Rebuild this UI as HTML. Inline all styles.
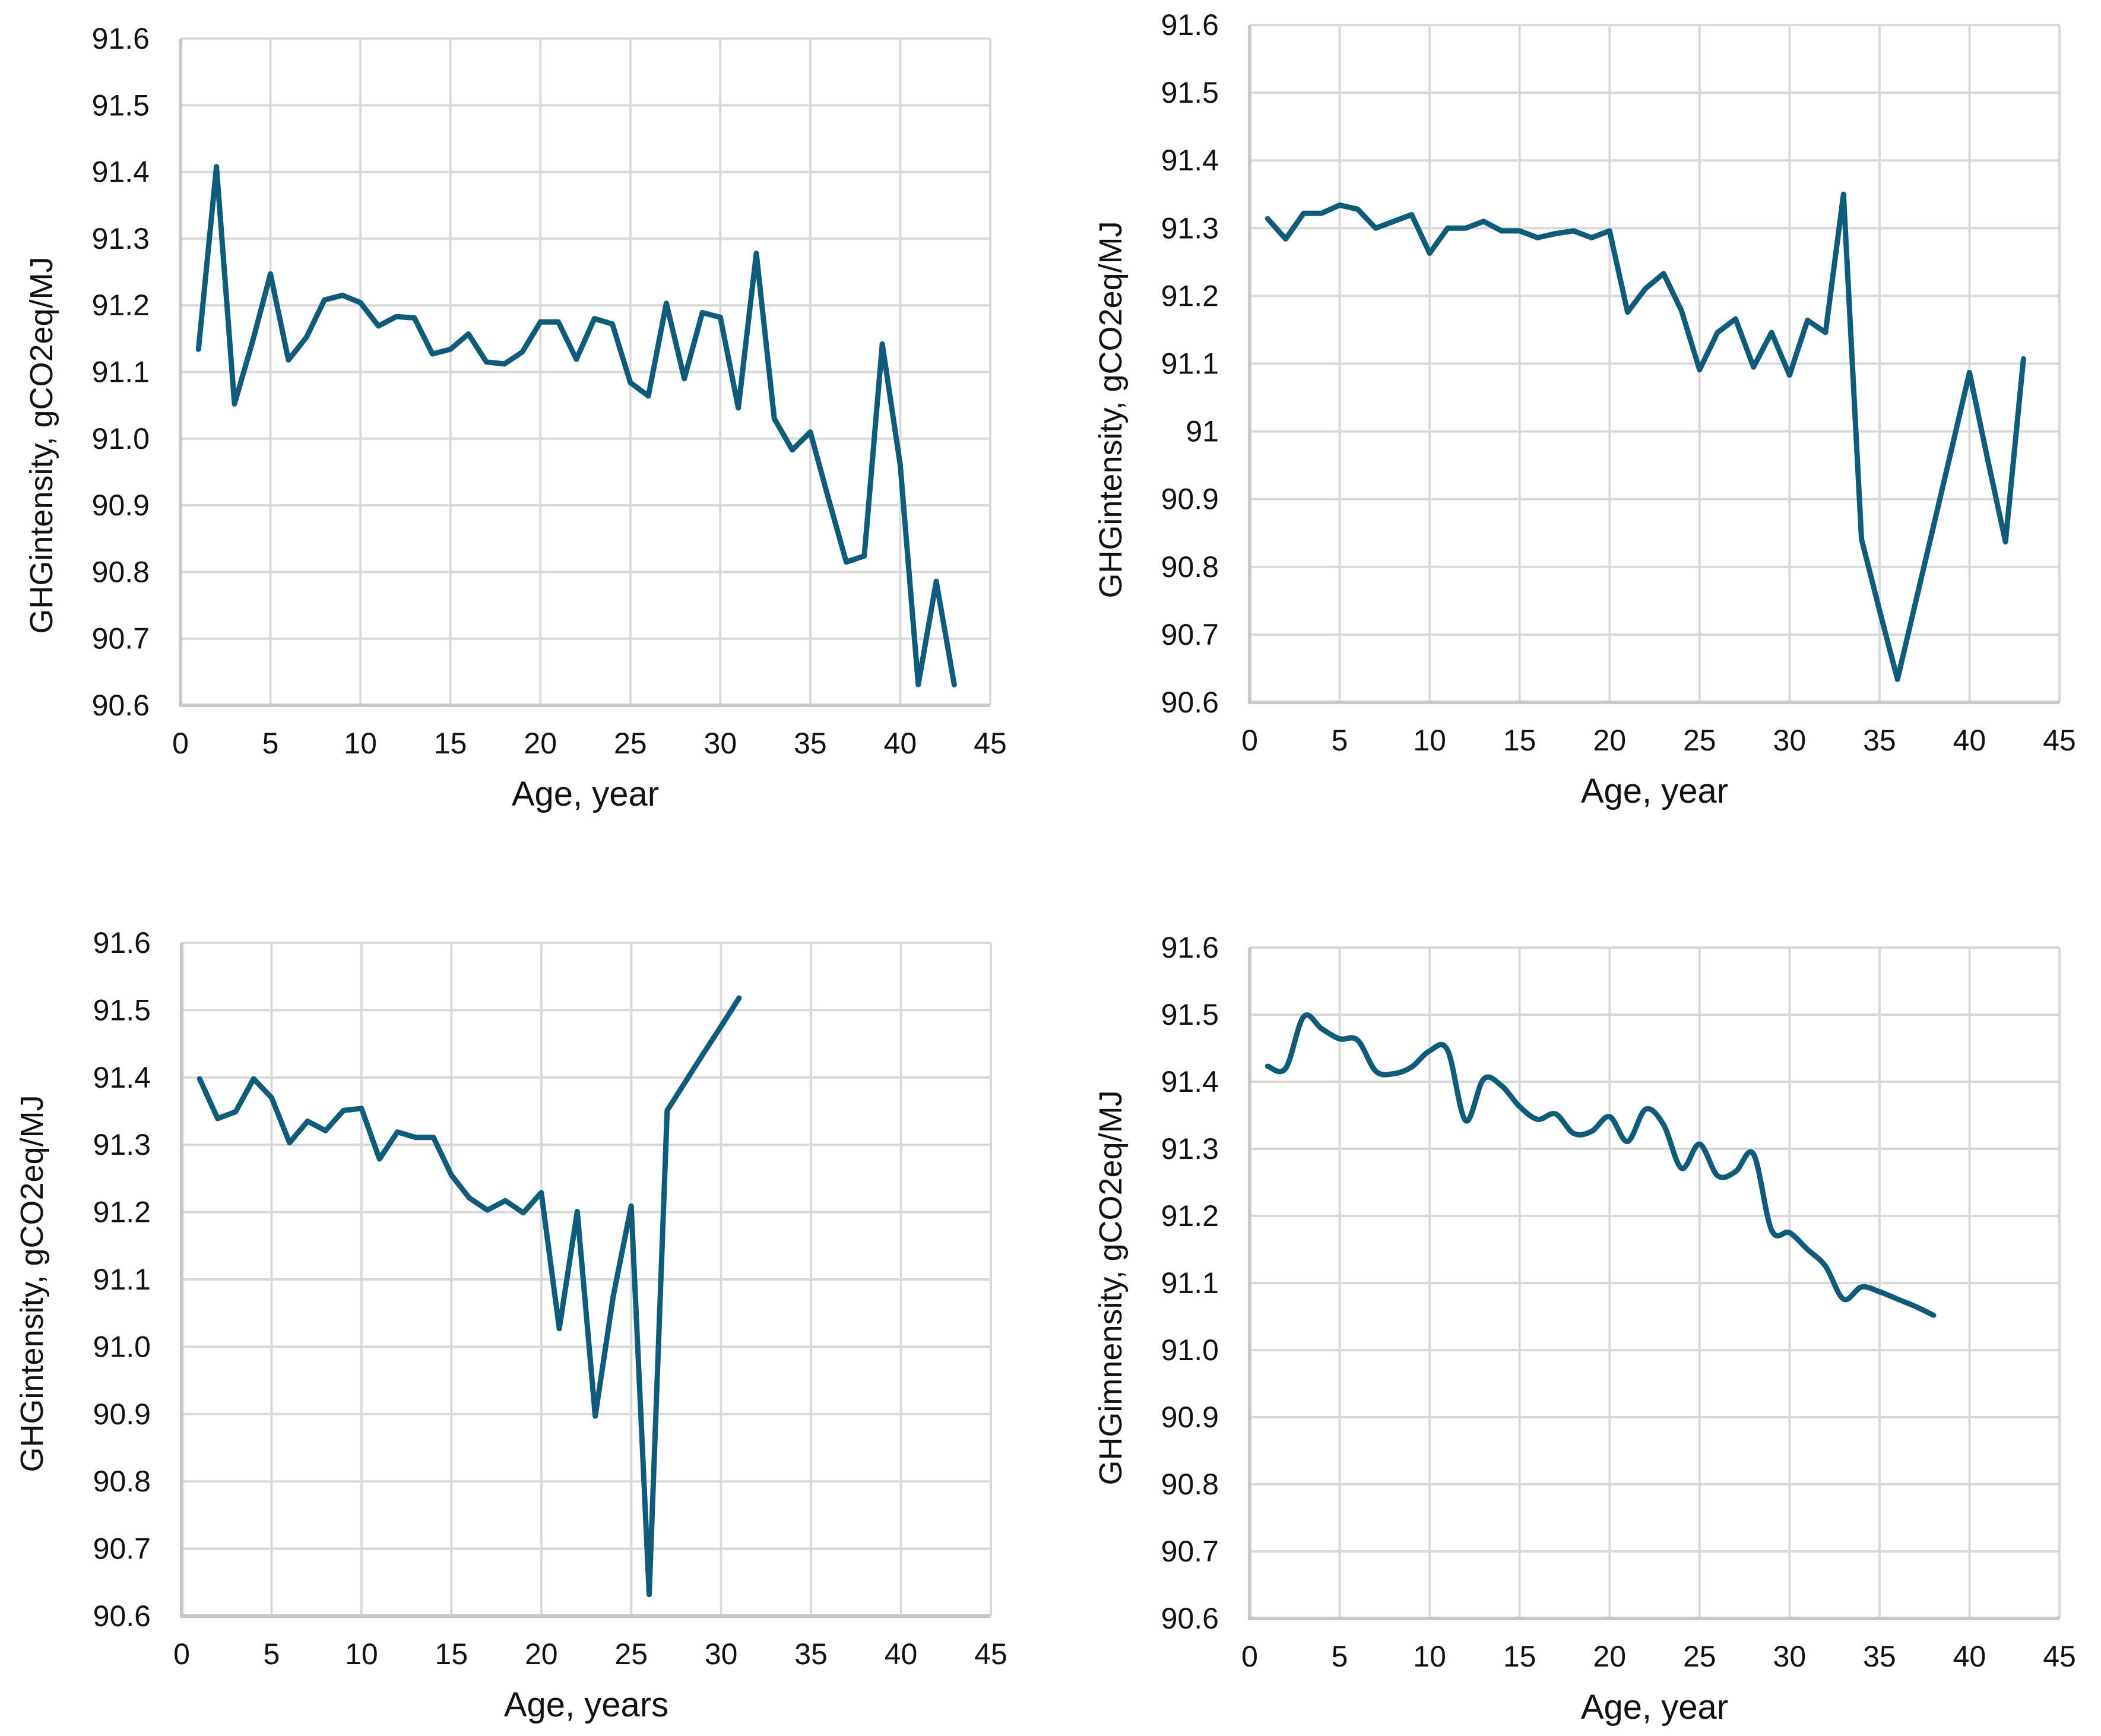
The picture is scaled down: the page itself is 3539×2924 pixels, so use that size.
<!DOCTYPE html>
<html><head><meta charset="utf-8"><style>
html,body{margin:0;padding:0;background:#fff;}
svg{display:block;}
text{font-family:"Liberation Sans",sans-serif;fill:#111;}
</style></head><body>
<svg id="c" width="3539" height="2924" viewBox="0 0 3539 2924" xmlns="http://www.w3.org/2000/svg"></svg>
<script>
const xTicks=[0,5,10,15,20,25,30,35,40,45];
const yTicks=[90.6,90.7,90.8,90.9,91.0,91.1,91.2,91.3,91.4,91.5,91.6];
const yTickLabelsA=["90.6","90.7","90.8","90.9","91.0","91.1","91.2","91.3","91.4","91.5","91.6"];
const yTickLabelsB=["90.6","90.7","90.8","90.9","91","91.1","91.2","91.3","91.4","91.5","91.6"];
const ages1=[1,2,3,4,5,6,7,8,9,10,11,12,13,14,15,16,17,18,19,20,21,22,23,24,25,26,27,28,29,30,31,32,33,34,35,36,37,38,39,40,41,42,43];
const vals1=[91.134,91.408,91.052,91.145,91.247,91.118,91.152,91.208,91.215,91.204,91.169,91.183,91.181,91.127,91.134,91.157,91.115,91.112,91.130,91.175,91.175,91.119,91.180,91.172,91.084,91.064,91.203,91.090,91.189,91.182,91.046,91.278,91.030,90.983,91.010,90.911,90.815,90.824,91.142,90.960,90.631,90.786,90.631];
const ages2=[1,2,3,4,5,6,7,8,9,10,11,12,13,14,15,16,17,18,19,20,21,22,23,24,25,26,27,28,29,30,31,32,33,34,35,36,37,38,39,40,41,42,43];
const vals2=[91.314,91.284,91.322,91.322,91.334,91.328,91.300,91.310,91.320,91.263,91.300,91.300,91.310,91.296,91.296,91.286,91.292,91.296,91.286,91.296,91.176,91.211,91.233,91.178,91.091,91.146,91.166,91.095,91.146,91.083,91.164,91.146,91.350,90.841,90.736,90.634,90.747,90.860,90.973,91.087,90.960,90.837,91.107];
const ages3=[1,2,3,4,5,6,7,8,9,10,11,12,13,14,15,16,17,18,19,20,21,22,23,24,25,26,27,28,29,30,31];
const vals3=[91.398,91.339,91.349,91.398,91.370,91.303,91.335,91.321,91.351,91.354,91.279,91.319,91.311,91.311,91.255,91.221,91.203,91.217,91.199,91.229,91.027,91.201,90.897,91.075,91.209,90.632,91.351,91.393,91.435,91.476,91.518];
const ages4=[1,2,3,4,5,6,7,8,9,10,11,12,13,14,15,16,17,18,19,20,21,22,23,24,25,26,27,28,29,30,31,32,33,34,35,36,37,38];
const vals4=[91.423,91.420,91.497,91.479,91.464,91.462,91.416,91.412,91.422,91.446,91.447,91.342,91.404,91.394,91.363,91.344,91.352,91.323,91.326,91.348,91.311,91.359,91.336,91.271,91.307,91.260,91.266,91.292,91.179,91.175,91.150,91.125,91.076,91.094,91.087,91.076,91.065,91.052];

const NS="http://www.w3.org/2000/svg";
const svg=document.getElementById('c');
function mk(tag,attrs,parent){const e=document.createElementNS(NS,tag);for(const k in attrs)e.setAttribute(k,attrs[k]);(parent||svg).appendChild(e);return e;}

function panel(id,L,T,R,B,ages,vals,yLabels,xTitle,yTitle,yTitleX,yTitleY,smooth){
  const g=mk('g',{});
  
  
  const sx=v=>L+(v-0)/45*(R-L);
  const sy=v=>B-(v-90.6)/1.0*(B-T);
  xTicks.forEach(t=>{
    const l=mk('line',{x1:sx(t),x2:sx(t),y1:T,y2:B,stroke:'#d9d9d9','stroke-width':4},g);
    
    
    const tx=mk('text',{x:sx(t),y:B+81,'text-anchor':'middle','font-size':50},g);
    
    
    tx.textContent=String(t);
  });
  yTicks.forEach((t,i)=>{
    const l=mk('line',{x1:L,x2:R,y1:sy(t),y2:sy(t),stroke:'#d9d9d9','stroke-width':4},g);
    
    
    const tx=mk('text',{x:L-52,y:sy(t)+17,'text-anchor':'end','font-size':50},g);
    
    
    tx.textContent=yLabels[i];
  });
  const ax=mk('path',{d:`M${L},${T}L${L},${B}L${R},${B}`,fill:'none',stroke:'#c8c8c8','stroke-width':6},g);
  
  
  const pts=ages.map((a,i)=>[sx(a),sy(vals[i])]);
  let d='M'+pts[0][0]+','+pts[0][1];
  if(!smooth){for(let i=1;i<pts.length;i++)d+='L'+pts[i][0]+','+pts[i][1];}
  else{
    for(let i=0;i<pts.length-1;i++){
      const p0=pts[Math.max(0,i-1)],p1=pts[i],p2=pts[i+1],p3=pts[Math.min(pts.length-1,i+2)];
      const c1=[p1[0]+(p2[0]-p0[0])/6,p1[1]+(p2[1]-p0[1])/6];
      const c2=[p2[0]-(p3[0]-p1[0])/6,p2[1]-(p3[1]-p1[1])/6];
      d+=`C${c1[0]},${c1[1]} ${c2[0]},${c2[1]} ${p2[0]},${p2[1]}`;
    }
  }
  const ln=mk('path',{d:d,fill:'none',stroke:'#0f5c7a','stroke-width':9,'stroke-linejoin':'round','stroke-linecap':'round'},g);
  
  
  const xt=mk('text',{x:(L+R)/2,y:B+169,'text-anchor':'middle','font-size':58},g);
  
  
  xt.textContent=xTitle;
  const yt=mk('text',{x:0,y:0,'text-anchor':'middle','font-size':54,transform:`translate(${yTitleX},${yTitleY}) rotate(-90)`},g);
  
  
  yt.textContent=yTitle;
}
panel('panel-top-left',304,65,1668,1188,ages1,vals1,yTickLabelsA,'Age, year','GHGintensity, gCO2eq/MJ',88,750,false);
panel('panel-top-right',2105,42,3469,1183,ages2,vals2,yTickLabelsB,'Age, year','GHGintensity, gCO2eq/MJ',1889,690,false);
panel('panel-bottom-left',306,1588,1669,2722,ages3,vals3,yTickLabelsA,'Age, years','GHGintensity, gCO2eq/MJ',72,2162,false);
panel('panel-bottom-right',2105,1596,3469,2726,ages4,vals4,yTickLabelsA,'Age, year','GHGimnensity, gCO2eq/MJ',1889,2169,true);
</script>
</body></html>
